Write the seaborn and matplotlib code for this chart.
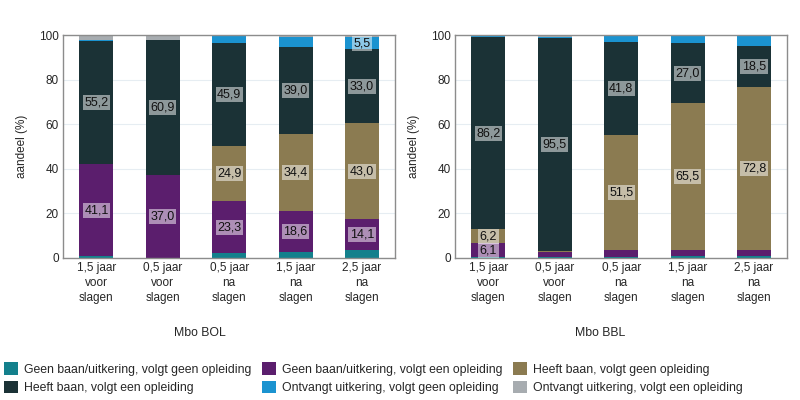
import numpy as np
import pandas as pd
import matplotlib
matplotlib.use("Agg")
import matplotlib.pyplot as plt
import seaborn as sns
from matplotlib.patches import Patch

sns.set_style("white")
plt.rcParams["font.family"] = ["Liberation Sans", "DejaVu Sans"]

# Data
periods = ["1,5 jaar\nvoor\nslagen", "0,5 jaar\nvoor\nslagen", "0,5 jaar\nna\nslagen",
           "1,5 jaar\nna\nslagen", "2,5 jaar\nna\nslagen"]
categories = [
    "Geen baan/uitkering, volgt geen opleiding",
    "Geen baan/uitkering, volgt een opleiding",
    "Heeft baan, volgt geen opleiding",
    "Heeft baan, volgt een opleiding",
    "Ontvangt uitkering, volgt geen opleiding",
    "Ontvangt uitkering, volgt een opleiding",
]
colors = ["#13808c", "#5b1e6d", "#8b7b51", "#1b3236", "#1b93d0", "#a7acb0"]
panel_titles = ["Mbo BOL", "Mbo BBL"]

bol_values = [
    [0.9, 0.0, 2.2, 2.7, 3.4],
    [41.1, 37.0, 23.3, 18.6, 14.1],
    [0.1, 0.0, 24.9, 34.4, 43.0],
    [55.2, 60.9, 45.9, 39.0, 33.0],
    [0.6, 0.0, 3.1, 4.5, 5.5],
    [2.1, 2.1, 0.6, 0.8, 1.0],
]
bbl_values = [
    [0.5, 0.3, 0.5, 1.0, 1.0],
    [6.1, 2.5, 3.0, 2.8, 2.8],
    [6.2, 0.3, 51.5, 65.5, 72.8],
    [86.2, 95.5, 41.8, 27.0, 18.5],
    [0.5, 0.4, 3.0, 3.7, 4.9],
    [0.5, 1.0, 0.2, 0.0, 0.0],
]


def draw_panel(ax, values, ylabel):
    vals = np.array(values)
    cum = np.cumsum(vals, axis=0)
    # draw tallest cumulative layer first so lower layers overlay it
    for k in range(len(categories) - 1, -1, -1):
        df = pd.DataFrame({"period": periods, "total": cum[k]})
        sns.barplot(data=df, x="period", y="total", color=colors[k], width=0.51,
                    saturation=1, linewidth=0, ax=ax)
    for k in range(len(categories)):
        for i in range(len(periods)):
            v = vals[k, i]
            if v >= 5:
                y = cum[k, i] - v / 2
                ax.text(i, y, f"{v:.1f}".replace(".", ","), ha="center", va="center",
                        fontsize=9, color="#111111",
                        bbox=dict(boxstyle="square,pad=0.12", fc="white", ec="none", alpha=0.5))
    ax.set_ylim(0, 100)
    ax.set_xlim(-0.5, 4.5)
    ax.set_yticks([0, 20, 40, 60, 80, 100])
    ax.yaxis.grid(True, color="#e6edf2", linewidth=0.8)
    ax.set_axisbelow(True)
    ax.set_xlabel("")
    ax.set_ylabel(ylabel, fontsize=8.5, labelpad=8)
    ax.tick_params(axis="both", labelsize=8.5, length=0, pad=3)
    ax.set_xticks(range(len(periods)))
    ax.set_xticklabels(periods, fontsize=8.5, linespacing=1.35)
    for spine in ax.spines.values():
        spine.set_color("#8c8c8c")
        spine.set_linewidth(1)


fig = plt.figure(figsize=(8, 4), dpi=100)
ax1 = fig.add_axes([0.079, 0.355, 0.415, 0.5575])
ax2 = fig.add_axes([0.569, 0.355, 0.415, 0.5575])
draw_panel(ax1, bol_values, "aandeel (%)")
draw_panel(ax2, bbl_values, "aandeel (%)")

fig.text(0.25, 0.167, panel_titles[0], ha="center", va="center", fontsize=8.8)
fig.text(0.75, 0.167, panel_titles[1], ha="center", va="center", fontsize=8.8)

handles = [Patch(facecolor=c, edgecolor="none", label=l) for c, l in zip(colors, categories)]
order = [0, 3, 1, 4, 2, 5]
fig.legend([handles[i] for i in order], [categories[i] for i in order],
           loc="upper left", bbox_to_anchor=(0.0, 0.103), ncol=3, frameon=False,
           fontsize=8.8, handlelength=1.2, handleheight=1.2, handletextpad=0.5,
           columnspacing=0.8, labelspacing=0.4, borderaxespad=0, borderpad=0.3)

fig.savefig("out.png", dpi=100)
